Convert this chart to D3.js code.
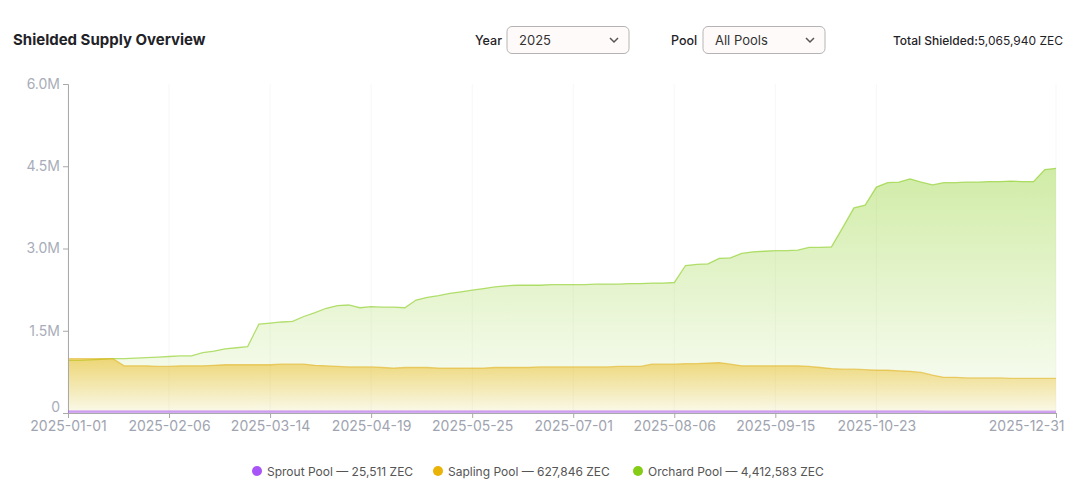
<!DOCTYPE html>
<html>
<head>
<meta charset="utf-8">
<script src="https://cdn.jsdelivr.net/npm/d3@7"></script>
<style>
  body { margin: 0; background: #fff; }
  svg { display: block; font-family: Inter, "Noto Sans", sans-serif; }
</style>
</head>
<body>
<svg id="chart" width="1068" height="501"></svg>
<script>
// Dates on the category axis (sampled every ~4 days)
const dates = [
  '2025-01-01', '2025-01-05', '2025-01-09', '2025-01-13', '2025-01-17', '2025-01-21', '2025-01-25', '2025-01-29', '2025-02-02', '2025-02-06',
  '2025-02-10', '2025-02-14', '2025-02-18', '2025-02-22', '2025-02-26', '2025-03-02', '2025-03-06', '2025-03-10', '2025-03-14',
  '2025-03-18', '2025-03-22', '2025-03-26', '2025-03-30', '2025-04-03', '2025-04-07', '2025-04-11', '2025-04-15', '2025-04-19',
  '2025-04-23', '2025-04-27', '2025-05-01', '2025-05-05', '2025-05-09', '2025-05-13', '2025-05-17', '2025-05-21', '2025-05-25',
  '2025-05-29', '2025-06-02', '2025-06-06', '2025-06-10', '2025-06-14', '2025-06-18', '2025-06-22', '2025-06-27', '2025-07-01',
  '2025-07-05', '2025-07-09', '2025-07-13', '2025-07-17', '2025-07-21', '2025-07-25', '2025-07-29', '2025-08-02', '2025-08-06',
  '2025-08-10', '2025-08-15', '2025-08-19', '2025-08-24', '2025-08-28', '2025-09-02', '2025-09-06', '2025-09-11', '2025-09-15',
  '2025-09-19', '2025-09-23', '2025-09-28', '2025-10-02', '2025-10-06', '2025-10-10', '2025-10-15', '2025-10-19', '2025-10-23',
  '2025-10-27', '2025-10-31', '2025-11-04', '2025-11-09', '2025-11-13', '2025-11-17', '2025-11-22', '2025-11-26', '2025-11-30',
  '2025-12-05', '2025-12-09', '2025-12-13', '2025-12-18', '2025-12-22', '2025-12-27', '2025-12-31'
];

// Pool balances, millions of ZEC
const orchard = [
  0.96, 0.96, 0.97, 0.98, 0.99, 0.99, 1.00, 1.01, 1.02, 1.03,
  1.04, 1.04, 1.10, 1.13, 1.17, 1.19, 1.21, 1.62, 1.64,
  1.66, 1.67, 1.76, 1.83, 1.91, 1.96, 1.97, 1.92, 1.94,
  1.93, 1.93, 1.92, 2.06, 2.11, 2.14, 2.18, 2.21, 2.24,
  2.27, 2.30, 2.32, 2.33, 2.33, 2.33, 2.34, 2.34, 2.34,
  2.34, 2.35, 2.35, 2.35, 2.36, 2.36, 2.37, 2.37, 2.38,
  2.69, 2.71, 2.72, 2.82, 2.83, 2.91, 2.94, 2.95, 2.96,
  2.96, 2.97, 3.02, 3.02, 3.03, 3.38, 3.74, 3.79, 4.12,
  4.20, 4.21, 4.27, 4.21, 4.16, 4.20, 4.20, 4.21, 4.21,
  4.22, 4.22, 4.23, 4.22, 4.22, 4.44, 4.46
];

const sapling = [
  0.99, 0.99, 0.99, 0.99, 0.99, 0.86, 0.86, 0.86, 0.85, 0.85,
  0.86, 0.86, 0.86, 0.87, 0.88, 0.88, 0.88, 0.88, 0.88,
  0.89, 0.89, 0.89, 0.87, 0.86, 0.85, 0.84, 0.84, 0.84,
  0.83, 0.82, 0.83, 0.83, 0.83, 0.82, 0.82, 0.82, 0.82,
  0.82, 0.83, 0.83, 0.83, 0.83, 0.84, 0.84, 0.84, 0.84,
  0.84, 0.84, 0.84, 0.85, 0.85, 0.85, 0.89, 0.89, 0.89,
  0.90, 0.90, 0.91, 0.92, 0.89, 0.86, 0.86, 0.86, 0.86,
  0.86, 0.86, 0.85, 0.83, 0.81, 0.80, 0.80, 0.79, 0.78,
  0.78, 0.77, 0.76, 0.74, 0.69, 0.65, 0.65, 0.64, 0.64,
  0.64, 0.64, 0.63, 0.63, 0.63, 0.63, 0.63
];

const sprout = [
  0.026, 0.026, 0.026, 0.026, 0.026, 0.026, 0.026, 0.026, 0.026, 0.026,
  0.026, 0.026, 0.026, 0.026, 0.026, 0.026, 0.026, 0.026, 0.026,
  0.026, 0.026, 0.026, 0.026, 0.026, 0.026, 0.026, 0.026, 0.026,
  0.026, 0.026, 0.026, 0.026, 0.026, 0.026, 0.026, 0.026, 0.026,
  0.026, 0.026, 0.026, 0.026, 0.026, 0.026, 0.026, 0.026, 0.026,
  0.026, 0.026, 0.026, 0.026, 0.026, 0.026, 0.026, 0.026, 0.026,
  0.026, 0.026, 0.026, 0.026, 0.026, 0.026, 0.026, 0.026, 0.026,
  0.026, 0.026, 0.026, 0.026, 0.026, 0.026, 0.026, 0.026, 0.026,
  0.026, 0.026, 0.026, 0.026, 0.025, 0.025, 0.025, 0.025, 0.025,
  0.025, 0.025, 0.025, 0.025, 0.025, 0.025, 0.025
];

const tickLabels = [
  '2025-01-01', '2025-02-06', '2025-03-14', '2025-04-19', '2025-05-25',
  '2025-07-01', '2025-08-06', '2025-09-15', '2025-10-23', '2025-12-31'
];
const yTicks = [0, 1.5, 3.0, 4.5, 6.0];

const legendItems = [
  { name: 'Sprout Pool', total: '25,511', color: '#a855f7' },
  { name: 'Sapling Pool', total: '627,846', color: '#eab308' },
  { name: 'Orchard Pool', total: '4,412,583', color: '#84cc16' }
];

const svg = d3.select('#chart');
const margin = { top: 84, right: 12, bottom: 88, left: 68 };
const width = 1068 - margin.left - margin.right;
const height = 501 - margin.top - margin.bottom;

// Header
svg.append('text')
  .attr('x', 13).attr('y', 45)
  .attr('font-size', 15).attr('font-weight', 700)
  .attr('fill', '#1f2328')
  .text('Shielded Supply Overview');

function dropdown(labelX, boxX, label, value) {
  svg.append('text')
    .attr('x', labelX).attr('y', 45)
    .attr('font-size', 12.5).attr('font-weight', 500)
    .attr('fill', '#1f2328')
    .text(label);
  svg.append('rect')
    .attr('x', boxX).attr('y', 26.5)
    .attr('width', 122).attr('height', 27)
    .attr('rx', 5)
    .attr('fill', '#fffafa')
    .attr('stroke', '#b4b4b4');
  svg.append('text')
    .attr('x', boxX + 12).attr('y', 45)
    .attr('font-size', 13)
    .attr('fill', '#333')
    .text(value);
  svg.append('path')
    .attr('d', `M${boxX + 103},${38} l4,4 l4,-4`)
    .attr('fill', 'none')
    .attr('stroke', '#555')
    .attr('stroke-width', 1.5);
}
dropdown(475, 507, 'Year', '2025');
dropdown(671, 703, 'Pool', 'All Pools');

const total = svg.append('text')
  .attr('x', 1063).attr('y', 45)
  .attr('text-anchor', 'end')
  .attr('font-size', 12)
  .attr('fill', '#1f2328');
total.append('tspan').attr('font-weight', 500).text('Total Shielded:');
total.append('tspan').text('5,065,940 ZEC');

const g = svg.append('g')
  .attr('transform', `translate(${margin.left},${margin.top})`);

// Scales
const x = d3.scalePoint()
  .domain(dates)
  .range([0, width]);

const y = d3.scaleLinear()
  .domain([0, 6])
  .range([height, 0]);

// Gradients
const defs = svg.append('defs');
function gradient(id, color, top, bottom) {
  const lg = defs.append('linearGradient')
    .attr('id', id)
    .attr('x1', 0).attr('y1', 0).attr('x2', 0).attr('y2', 1);
  lg.append('stop').attr('offset', '0%').attr('stop-color', color).attr('stop-opacity', top);
  lg.append('stop').attr('offset', '100%').attr('stop-color', color).attr('stop-opacity', bottom);
}
gradient('gOrchard', '#84cc16', 0.38, 0.03);
gradient('gSapling', '#eab308', 0.5, 0.05);
gradient('gSprout', '#a855f7', 0.4, 0.1);

// Faint vertical gridlines
g.append('g')
  .selectAll('line')
  .data(tickLabels)
  .enter().append('line')
  .attr('x1', d => x(d)).attr('x2', d => x(d))
  .attr('y1', 0).attr('y2', height)
  .attr('stroke', '#f7f7f7');

function drawSeries(values, color, grad, lineOpacity, lineWidth) {
  const data = dates.map((d, i) => ({ date: d, v: values[i] }));
  const area = d3.area()
    .x(d => x(d.date))
    .y0(y(0))
    .y1(d => y(d.v));
  const line = d3.line()
    .x(d => x(d.date))
    .y(d => y(d.v));
  g.append('path')
    .datum(data)
    .attr('d', area)
    .attr('fill', `url(#${grad})`);
  g.append('path')
    .datum(data)
    .attr('d', line)
    .attr('fill', 'none')
    .attr('stroke', color)
    .attr('stroke-opacity', lineOpacity)
    .attr('stroke-width', lineWidth);
}

drawSeries(orchard, '#84cc16', 'gOrchard', 0.6, 1.3);
drawSeries(sapling, '#e0ad12', 'gSapling', 0.55, 1.3);

// Y axis
const yAxis = d3.axisLeft(y)
  .tickValues(yTicks)
  .tickSize(5)
  .tickFormat(d => (d === 0 ? '0' : `${d.toFixed(1)}M`));

const yG = g.append('g').attr('class', 'y axis').call(yAxis);
yG.select('.domain').attr('stroke', '#a9a9a9');
yG.selectAll('.tick line').attr('stroke', '#a9a9a9');
yG.selectAll('.tick text')
  .attr('fill', '#a8adb9')
  .attr('font-size', 14)
  .attr('font-family', 'Inter, sans-serif');
// keep the zero label clear of the first date label
yG.selectAll('.tick text')
  .filter(d => d === 0)
  .attr('dy', '-0.1em');

// X axis
const xAxis = d3.axisBottom(x)
  .tickValues(tickLabels)
  .tickSize(5)
  .tickSizeOuter(0);

const xG = g.append('g')
  .attr('class', 'x axis')
  .attr('transform', `translate(0,${height})`)
  .call(xAxis);
xG.select('.domain').attr('stroke', '#a9a9a9');
xG.selectAll('.tick line').attr('stroke', '#a9a9a9');
xG.selectAll('.tick text')
  .attr('fill', '#a0a4b0')
  .attr('font-size', 14)
  .attr('font-family', 'Inter, sans-serif')
  .attr('dy', '0.68em');
xG.selectAll('.tick text')
  .filter(d => d === tickLabels[tickLabels.length - 1])
  .attr('text-anchor', 'end')
  .attr('dx', 8);

// Sprout sits right on the baseline
drawSeries(sprout, '#a855f7', 'gSprout', 0.45, 2.5);

// Legend
const legend = svg.append('g')
  .attr('transform', 'translate(0,471)');
const legendX = [257, 438, 638];
legendItems.forEach((item, i) => {
  legend.append('circle')
    .attr('cx', legendX[i]).attr('cy', 0)
    .attr('r', 5)
    .attr('fill', item.color);
  legend.append('text')
    .attr('x', legendX[i] + 10).attr('y', 4.5)
    .attr('font-size', 12)
    .attr('fill', '#555')
    .text(`${item.name} \u2014 ${item.total} ZEC`);
});
</script>
</body>
</html>
